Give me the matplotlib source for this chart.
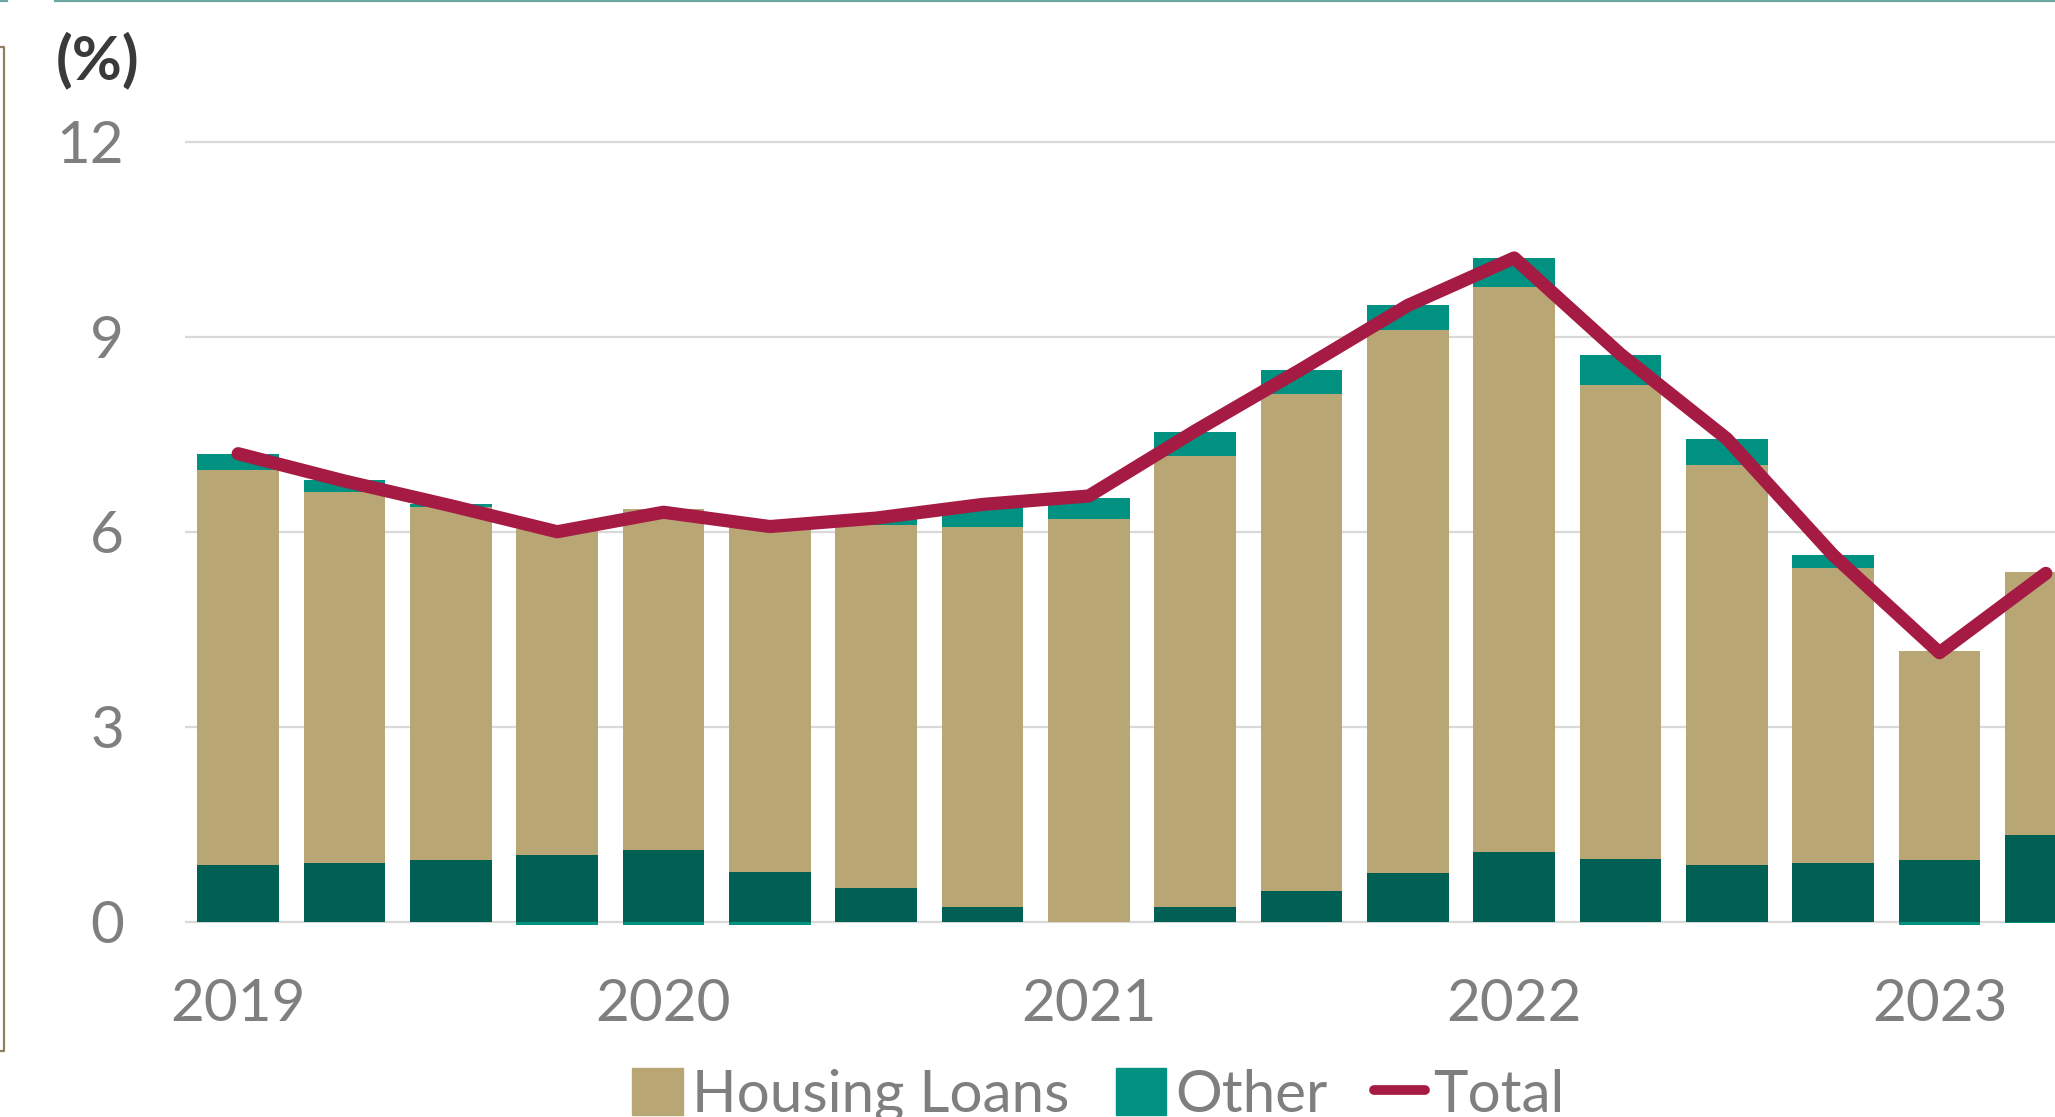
import numpy as np
import matplotlib
matplotlib.use("Agg")
import matplotlib.pyplot as plt
from matplotlib.lines import Line2D
from matplotlib.patches import Patch

# quarterly data, 2019 Q1 .. 2023 Q2 (%)
quarters = ["2019Q1", "2019Q2", "2019Q3", "2019Q4", "2020Q1", "2020Q2", "2020Q3", "2020Q4",
            "2021Q1", "2021Q2", "2021Q3", "2021Q4", "2022Q1", "2022Q2", "2022Q3", "2022Q4",
            "2023Q1", "2023Q2"]
base = [0.88, 0.90, 0.95, 1.03, 1.11, 0.77, 0.53, 0.23, 0.00, 0.23, 0.47, 0.76,
        1.08, 0.97, 0.88, 0.90, 0.95, 1.33]
housing = [6.07, 5.71, 5.43, 5.01, 5.24, 5.34, 5.57, 5.84, 6.20, 6.94, 7.65, 8.34,
           8.69, 7.28, 6.14, 4.54, 3.22, 4.05]
other = [0.25, 0.18, 0.04, -0.05, -0.04, -0.04, 0.11, 0.31, 0.32, 0.36, 0.37, 0.39,
         0.44, 0.46, 0.41, 0.20, -0.05, -0.02]
total = [7.20, 6.78, 6.40, 6.00, 6.30, 6.08, 6.21, 6.42, 6.55, 7.55, 8.50, 9.48,
         10.21, 8.73, 7.43, 5.64, 4.14, 5.36]
year_labels = ["2019", "2020", "2021", "2022", "2023"]

c_base = "#006053"
c_house = "#b8a774"
c_other = "#009180"
c_total = "#a51b44"
grey = "#7f7f7f"

FONT = "Lato"
plt.rcParams["font.family"] = [FONT, "DejaVu Sans"]

W, H = 2055, 1117
fig = plt.figure(figsize=(W / 100, H / 100), dpi=100)
ax = fig.add_axes([185 / W, 0.14548, 1914 / W, 0.75694])

x = np.arange(len(quarters))
base_a = np.array(base)
house_a = np.array(housing)
other_a = np.array(other)
top = base_a + house_a
other_bottom = np.where(other_a >= 0, top, 0)

bw = 0.77
ax.bar(x, base_a, bw, color=c_base, zorder=2)
ax.bar(x, house_a, bw, bottom=base_a, color=c_house, zorder=2)
ax.bar(x, other_a, bw, bottom=other_bottom, color=c_other, zorder=2)
ax.plot(x, total, color=c_total, lw=9.5, solid_capstyle="round", solid_joinstyle="round", zorder=3)

ax.set_xlim(-0.5, 17.5)
ax.set_ylim(-0.5, 12.5)
ax.set_yticks([0, 3, 6, 9, 12])
ax.set_xticks(x[::4])
ax.set_xticklabels(year_labels)
ax.yaxis.grid(True, color="#d9d9d9", lw=1.6)
ax.set_axisbelow(True)
for s in ax.spines.values():
    s.set_visible(False)
ax.tick_params(axis="both", length=0, labelsize=42, labelcolor=grey)
ax.tick_params(axis="y", pad=44)
ax.tick_params(axis="x", pad=17)

fig.text(56 / W, 1 - 60 / H, "(%)", fontsize=44, fontweight="bold", color="#3a3a3a",
         ha="left", va="center")

# decorative frame lines
fig.add_artist(Line2D([55 / W, 1], [1 - 1 / H, 1 - 1 / H], color="#6aaaa3", lw=1.6))
fig.add_artist(Line2D([0, 7 / W], [1 - 1 / H, 1 - 1 / H], color="#6aaaa3", lw=1.6))
fig.add_artist(Line2D([0, 3.5 / W, 3.5 / W, 0],
                      [1 - 47 / H, 1 - 47 / H, 1 - 1051 / H, 1 - 1051 / H],
                      color="#8c8060", lw=1.6))

handles = [Patch(color=c_house), Patch(color=c_other),
           Line2D([], [], color=c_total, lw=7, solid_capstyle="round")]
fig.legend(handles, ["Housing Loans", "Other", "Total"], loc="upper left",
           bbox_to_anchor=(632 / W, 1 - 1068 / H), ncol=3, frameon=False,
           fontsize=42, labelcolor=grey, handlelength=0.87, handleheight=0.87,
           handletextpad=0.15, columnspacing=0.8, borderpad=0, borderaxespad=0)

fig.savefig("out.png", dpi=100)
